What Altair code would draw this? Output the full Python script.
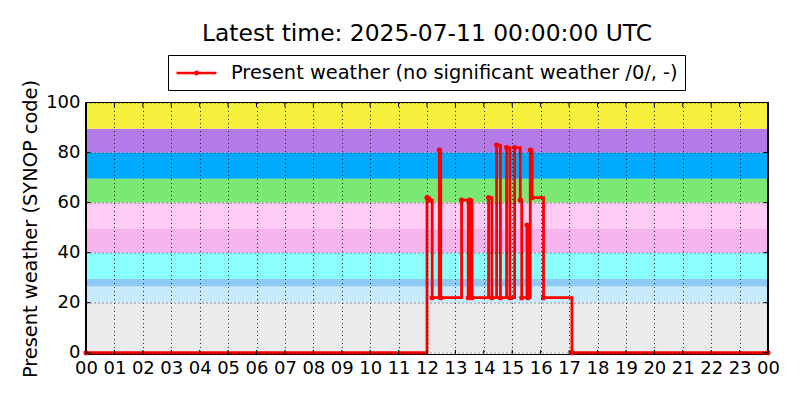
import altair as alt
import pandas as pd

# ---- data ----
obs_time = ["00:00", "12:00", "12:05", "12:11", "12:26", "12:29",
            "13:13", "13:27", "13:30", "13:35",
            "14:10", "14:17", "14:27", "14:35", "14:48", "14:55",
            "15:05", "15:17", "15:20", "15:31", "15:33", "15:38", "15:42",
            "16:06", "17:06", "24:00"]
obs_value = [0, 62, 61, 22, 81, 22,
             61, 22, 61, 22,
             62, 22, 83, 22, 82, 22,
             82, 61, 22, 51, 22, 81, 62,
             22, 0, 0]

band_low = [0, 20, 26.5, 29.5, 40, 49.5, 60, 69.5, 80, 89.5]
band_high = [20, 26.5, 29.5, 40, 49.5, 60, 69.5, 80, 89.5, 100]
band_color = ["#ebebeb", "#c8eaff", "#8ccaf5", "#8cffff", "#f5b4ec",
              "#ffccf5", "#7ae872", "#00aaff", "#b47ae8", "#f5f03c"]

hour_ticks = list(range(25))
value_ticks = [0, 20, 40, 60, 80, 100]

series_name = "Present weather (no significant weather /0/, -)"
title_text = "Latest time: 2025-07-11 00:00:00 UTC"
y_title = "Present weather (SYNOP code)"

W, H = 682, 252
Y_MIN = -0.7
FONT = "DejaVu Sans"


def to_hours(s):
    h, m = s.split(":")
    return int(h) + int(m) / 60.0


obs = pd.DataFrame({
    "hour": [to_hours(t) for t in obs_time],
    "value": obs_value,
    "series": series_name,
})
bands = pd.DataFrame({"lo": band_low, "hi": band_high, "col": band_color})
hticks = pd.DataFrame({"h": hour_ticks})
vticks = pd.DataFrame({"v": value_ticks})

xscale = alt.Scale(domain=[0, 24], nice=False, zero=False)
yscale = alt.Scale(domain=[Y_MIN, 100], nice=False, zero=False)

x_axis = alt.Axis(
    values=hour_ticks,
    labelExpr="datum.value >= 24 ? '00' : (datum.value < 10 ? '0' + datum.value : '' + datum.value)",
    title=None, grid=True, gridColor="black", gridDash=[1, 3], gridWidth=0.8,
    ticks=False, domain=False, labelFontSize=18, labelFont=FONT,
    labelColor="black", labelPadding=5, labelFlush=False, labelOverlap=False,
    labelSeparation=0, zindex=1,
)
y_axis = alt.Axis(
    values=value_ticks, title=y_title, grid=True, gridColor="black",
    gridDash=[1, 3], gridWidth=0.8, ticks=False, domain=False,
    labelFontSize=18, labelFont=FONT, labelColor="black", labelPadding=6,
    labelOverlap=False, labelFlush=False,
    titleFontSize=19.4, titleFont=FONT, titleFontWeight="normal",
    titleColor="black", titleX=-56, titleY=H / 2, titleAngle=270,
    titleAlign="center", titleBaseline="middle", zindex=1,
)

band_layer = alt.Chart(bands).mark_rect().encode(
    x=alt.datum(0, scale=xscale, axis=x_axis),
    x2=alt.datum(24),
    y=alt.Y("lo:Q", scale=yscale, axis=y_axis),
    y2="hi:Q",
    fill=alt.Fill("col:N", scale=None, legend=None),
)

frame_layer = alt.Chart(bands).mark_rect(
    fillOpacity=0, stroke="black", strokeWidth=1
).encode(
    x=alt.datum(0, scale=xscale, axis=x_axis),
    x2=alt.datum(24),
    y=alt.datum(Y_MIN, scale=yscale, axis=y_axis),
    y2=alt.datum(100),
)

# custom legend glyph: a 40px line with a small dot in the middle
legend_symbol = "M-1,0L3.2,0M0.97,0A0.13,0.13,0,1,1,1.23,0A0.13,0.13,0,1,1,0.97,0Z"

line_layer = alt.Chart(obs).mark_line(
    interpolate="step-after", strokeWidth=2.8,
    point=alt.OverlayMarkDef(filled=True, size=26, color="#ff0000"),
).encode(
    x=alt.X("hour:Q", scale=xscale, axis=x_axis),
    y=alt.Y("value:Q", scale=yscale, axis=y_axis),
    color=alt.Color(
        "series:N",
        scale=alt.Scale(domain=[series_name], range=["#ff0000"]),
        legend=alt.Legend(
            title=None, orient="none", legendX=82, legendY=-47.5,
            symbolType=legend_symbol, symbolSize=361, symbolStrokeWidth=2.5,
            symbolFillColor="#ff0000", symbolStrokeColor="#ff0000",
            labelFontSize=19.4, labelFont=FONT, labelColor="black",
            labelOffset=34, labelLimit=0, padding=7, strokeColor="black",
            fillColor="white", cornerRadius=0,
        ),
    ),
)

tick_bottom = alt.Chart(hticks).mark_rule(color="black", strokeWidth=1).encode(
    x=alt.X("h:Q", scale=xscale, axis=x_axis), y=alt.value(H), y2=alt.value(H - 4.5))
tick_top = alt.Chart(hticks).mark_rule(color="black", strokeWidth=1).encode(
    x=alt.X("h:Q", scale=xscale, axis=x_axis), y=alt.value(0), y2=alt.value(4.5))
tick_left = alt.Chart(vticks).mark_rule(color="black", strokeWidth=1).encode(
    y=alt.Y("v:Q", scale=yscale, axis=y_axis), x=alt.value(0), x2=alt.value(4.5))
tick_right = alt.Chart(vticks).mark_rule(color="black", strokeWidth=1).encode(
    y=alt.Y("v:Q", scale=yscale, axis=y_axis), x=alt.value(W - 4.5), x2=alt.value(W))

chart = alt.layer(
    band_layer, frame_layer, line_layer,
    tick_bottom, tick_top, tick_left, tick_right,
).resolve_scale(
    color="independent", fill="independent"
).properties(
    width=W, height=H,
    autosize=alt.AutoSizeParams(type="none"),
    padding={"left": 78, "top": 94.5, "right": 16, "bottom": 40},
    title=alt.TitleParams(
        title_text, fontSize=23.4, font=FONT, fontWeight="normal",
        color="black", anchor="middle", offset=-10, baseline="alphabetic",
    ),
).configure_view(stroke=None).configure_axis(labelOverlap=False)

chart.save("out.html", embed_options={"renderer": "svg", "actions": False})
